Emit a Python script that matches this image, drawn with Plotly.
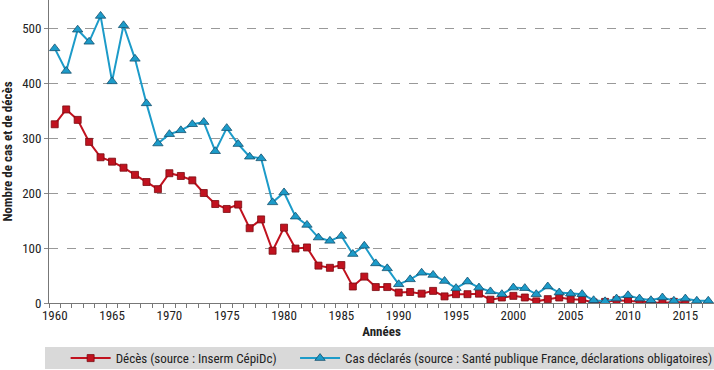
import plotly.graph_objects as go

years = list(range(1960, 2018))

cas_declares = [463, 422, 497, 475, 522, 403, 505, 444, 363, 290,
                307, 314, 325, 329, 276, 318, 289, 266, 263, 183,
                201, 157, 142, 119, 113, 122, 89, 104, 72, 63,
                34, 43, 55, 51, 40, 27, 39, 28, 21, 16,
                28, 27, 16, 30, 19, 17, 16, 5, 3, 8,
                14, 8, 5, 10, 4, 8, 4, 4]

deces = [325, 352, 333, 293, 265, 257, 246, 233, 220, 207,
         236, 231, 223, 200, 180, 171, 179, 136, 152, 95,
         137, 99, 101, 68, 64, 69, 30, 48, 29, 29,
         19, 20, 17, 22, 12, 16, 16, 17, 6, 10,
         13, 10, 3, 7, 10, 7, 6, 1, 2, 5,
         4, 2, 1, 0, 2, 1, None, None]

tick_years = list(range(1960, 2016, 5))
tick_labels = [str(y) for y in tick_years]
y_ticks = [0, 100, 200, 300, 400, 500]

FONT = "Liberation Sans Narrow, Roboto Condensed, Arial Narrow, Liberation Sans, sans-serif"
FS = 13
RED = "#C1121F"
BLUE = "#1C9BC9"

fig = go.Figure()
fig.add_trace(go.Scatter(
    x=years, y=deces, mode="lines+markers",
    name="Décès (source : Inserm CépiDc)",
    line=dict(color=RED, width=2),
    marker=dict(symbol="square", size=7, color=RED, line=dict(color="#7a0a10", width=0.8)),
    legend="legend",
))
fig.add_trace(go.Scatter(
    x=years, y=cas_declares, mode="lines+markers",
    name="Cas déclarés (source : Santé publique France, déclarations obligatoires)",
    line=dict(color=BLUE, width=2),
    marker=dict(symbol="triangle-up", size=9, color=BLUE, line=dict(color="#14506e", width=0.8)),
    legend="legend2",
))

leg_common = dict(orientation="h", xanchor="left", y=-0.182, yanchor="middle",
                  bgcolor="rgba(0,0,0,0)", font=dict(family=FONT, size=FS, color="#222"),
                  itemwidth=40, borderwidth=0)

fig.update_layout(
    width=714, height=370,
    margin=dict(l=49, r=0, t=0, b=67, autoexpand=False),
    paper_bgcolor="white", plot_bgcolor="white",
    font=dict(family=FONT, size=FS, color="#222"),
    showlegend=True,
    legend=dict(x=0.025, **leg_common),
    legend2=dict(x=0.37, **leg_common),
    shapes=[dict(type="rect", xref="paper", yref="paper",
                 x0=-0.006, x1=1.0, y0=-0.145, y1=-0.218,
                 fillcolor="#D9D9D9", line=dict(width=0), layer="below")],
)

fig.update_xaxes(
    range=[1959.5, 2017.5], tickmode="array", tickvals=tick_years, ticktext=tick_labels,
    ticks="", showgrid=False, zeroline=False,
    showline=True, linecolor="#777", linewidth=1,
    tickfont=dict(family=FONT, size=FS, color="#222"),
    minor=dict(tickmode="array", tickvals=[y - 0.5 for y in years] + [2017.5],
               ticks="outside", ticklen=4, tickcolor="#777", showgrid=False),
    title=dict(text="<b>Années</b>", font=dict(family=FONT, size=FS, color="#222"), standoff=5),
)
fig.update_yaxes(
    range=[0, 551], tickmode="array", tickvals=y_ticks,
    ticks="outside", ticklen=4, tickcolor="#888",
    showgrid=True, gridcolor="#999", griddash="dash", gridwidth=1,
    zeroline=False, showline=True, linecolor="#777", linewidth=1,
    tickfont=dict(family=FONT, size=FS, color="#222"),
    title=dict(text="<b>Nombre de cas et de décès</b>", font=dict(family=FONT, size=FS, color="#222"), standoff=6),
)

fig.write_html("out.html", config={"displayModeBar": False},
               post_script="document.body.style.margin='0px';")
